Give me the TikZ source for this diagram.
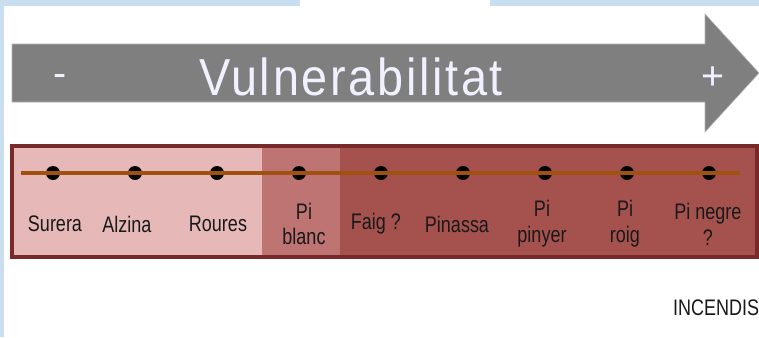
\documentclass[tikz,border=0pt]{standalone}
\usepackage{fontspec}
\setmainfont{Liberation Sans}
\usetikzlibrary{positioning}

\definecolor{framebl}{HTML}{C9DEEE}
\definecolor{arrowgr}{HTML}{7F7F7F}
\definecolor{lowrisk}{HTML}{E6B9B8}
\definecolor{midrisk}{HTML}{BE7472}
\definecolor{highrisk}{HTML}{A5524F}
\definecolor{boxedge}{HTML}{782A2A}
\definecolor{axisline}{HTML}{A0500F}

\tikzset{
    dot/.style={circle, fill=black, inner sep=0pt, minimum size=0.35cm},
    lbl/.style={font=\fontsize{16}{18.4}\selectfont, xscale=0.8, align=center, text=black!90, inner sep=0pt},
    bigtxt/.style={text=white!94!blue, inner sep=0pt}
}

\begin{document}
\begin{tikzpicture}[x={(0.025cm,0)}, y={(0,-0.025cm)}]
\useasboundingbox (0,0) rectangle (759,337);
\fill[white] (0,0) rectangle (759,337);

% blue frame along top and left
\fill[framebl] (0,0) rectangle (759,6);
\fill[framebl] (0,0) rectangle (4,337);
\fill[white] (300,0) rectangle (490,6);

% big arrow
\fill[arrowgr, draw=gray!60, line width=0.4pt]
    (12,44) -- (705,44) -- (705,14) -- (759,73) -- (705,132) -- (705,102) -- (12,102) -- cycle;
\node[bigtxt, anchor=base, font=\fontsize{37}{37}\selectfont\addfontfeatures{LetterSpace=5.7}, xscale=0.9] (title) at (351,95) {Vulnerabilitat};
\node[bigtxt, font=\fontsize{28}{28}\selectfont] (minus) at (60,80) {-};
\node[bigtxt, font=\fontsize{28}{28}\selectfont] (plus) at (713,78) {+};

% the three risk bands
\fill[lowrisk] (12,146) rectangle (262,257);
\fill[midrisk] (262,146) rectangle (340,257);
\fill[highrisk] (340,146) rectangle (757,257);
\draw[boxedge, line width=2.2pt] (12,146) rectangle (757,257);

% dots on the axis
\foreach \i/\x in {1/53, 2/135, 3/217, 4/299, 5/381, 6/463, 7/545, 8/627, 9/709}
    \node[dot] (d\i) at (\x,173) {};

\coordinate (axisL) at (21,173);
\coordinate (axisR) at (740,173);
\draw[axisline, line width=2.2pt] (axisL) -- (axisR);

% species
\foreach \x/\t [count=\i] in {55/Surera, 127/Alzina, 218/Roures, 304/{Pi\\blanc},
        376/{Faig ?}, 457/Pinassa, 542/{Pi\\pinyer}, 625/{Pi\\roig}, 708/{Pi negre\\?}}
    \node[lbl] (l\i) at (\x,224) {\t};

\node[lbl, anchor=base west] (incendis) at (673,315) {INCENDIS};
\end{tikzpicture}
\end{document}
